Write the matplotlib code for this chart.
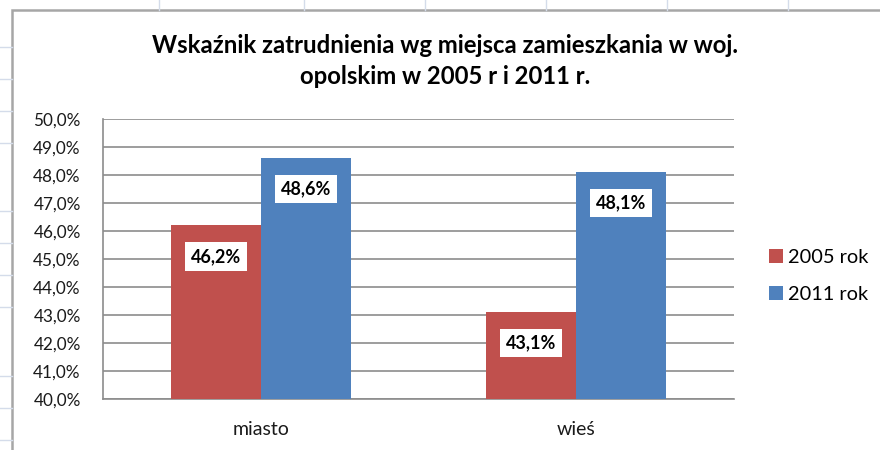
import matplotlib
matplotlib.use("Agg")
import matplotlib.pyplot as plt
from matplotlib.patches import Rectangle
from matplotlib.lines import Line2D
import numpy as np

categories = ["miasto", "wieś"]
series_names = ["2005 rok", "2011 rok"]
values_2005 = [46.2, 43.1]
values_2011 = [48.6, 48.1]
yticks = [40, 41, 42, 43, 44, 45, 46, 47, 48, 49, 50]
title = "Wskaźnik zatrudnienia wg miejsca zamieszkania w woj.\nopolskim w 2005 r i 2011 r."

plt.rcParams['font.family'] = ['Lato', 'DejaVu Sans']

W, H = 880, 450
fig = plt.figure(figsize=(W / 100, H / 100), dpi=100)

def fx(x):
    return x / W

def fy(y):
    return 1 - y / H

# spreadsheet grid in background
grid_c = "#d4dcea"
for x in [159, 304, 425, 546, 667, 788]:
    fig.add_artist(Line2D([fx(x), fx(x)], [fy(0), fy(10)], color=grid_c, lw=1))
for y in [47, 79, 111, 143, 211, 243, 275, 307, 376, 408, 440]:
    fig.add_artist(Line2D([fx(0), fx(12)], [fy(y), fy(y)], color=grid_c, lw=1))

# chart area
fig.add_artist(Rectangle((fx(12), fy(460)), fx(900), fy(10) - fy(460),
                         facecolor="white", edgecolor="#a6a6a6", lw=1.8, zorder=0))

ax = fig.add_axes([fx(103), fy(399), fx(734) - fx(103), fy(119) - fy(399)])
ax.set_facecolor("none")

x = np.arange(len(categories))
bw = 0.285
red = "#C0504D"
blue = "#4F81BD"
b1 = ax.bar(x - bw / 2, values_2005, bw, color=red, label=series_names[0], zorder=3)
b2 = ax.bar(x + bw / 2, values_2011, bw, color=blue, label=series_names[1], zorder=3)

for bars, vals in [(b1, values_2005), (b2, values_2011)]:
    for rect, v in zip(bars, vals):
        ax.annotate(f"{v:.1f}%".replace(".", ","),
                    xy=(rect.get_x() + rect.get_width() / 2, v),
                    xytext=(0, -31), textcoords="offset pixels",
                    ha="center", va="center", fontsize=13, fontweight="bold",
                    color="black", zorder=5,
                    bbox=dict(boxstyle="square,pad=0.32", facecolor="white", edgecolor="none"))

ax.set_xlim(-0.5, 1.5)
ax.set_ylim(40, 50)
ax.set_yticks(yticks)
ax.set_yticklabels([f"{t:.1f}%".replace(".", ",") for t in yticks], fontsize=12.3, color="#1a1a1a")
ax.set_xticks(x)
ax.set_xticklabels(categories, fontsize=14, color="#1a1a1a")
ax.tick_params(axis="both", length=0)
ax.tick_params(axis="y", pad=16)
ax.tick_params(axis="x", pad=16)
ax.yaxis.grid(True, color="#8c8c8c", lw=1.2, zorder=1)
ax.set_axisbelow(True)
for s in ["top", "right"]:
    ax.spines[s].set_visible(False)
for s in ["left", "bottom"]:
    ax.spines[s].set_color("#8c8c8c")
    ax.spines[s].set_linewidth(1.2)

fig.text(fx(445), fy(61), title, ha="center", va="center", fontsize=17.2,
         fontweight="bold", linespacing=1.45, color="black")

fig.legend(handles=[b1, b2], labels=series_names, loc="center left",
           bbox_to_anchor=(fx(761), fy(276)), frameon=False, fontsize=14.4,
           handlelength=0.7, handleheight=0.7, handletextpad=0.25,
           labelspacing=1.0, borderaxespad=0)

fig.savefig("out.png", dpi=100)
